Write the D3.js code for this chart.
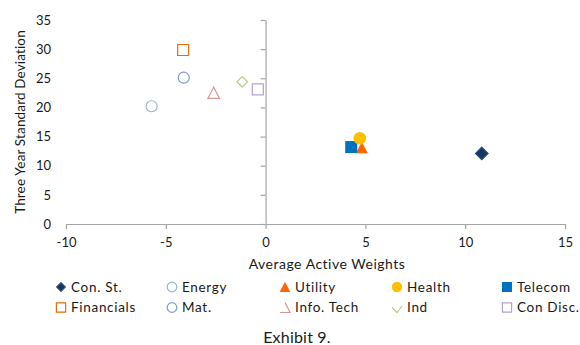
<!DOCTYPE html>
<html><head><meta charset="utf-8">
<script src="https://cdn.jsdelivr.net/npm/d3@7"></script>
<style>
html,body{margin:0;padding:0;background:#fff;}
svg text{font-family:Lato,"Open Sans",sans-serif;fill:#1a1a1a;}
</style></head>
<body><svg id="c" width="580" height="345"></svg>
<script>
const sectors = ["Con. St.","Energy","Utility","Health","Telecom","Financials","Mat.","Info. Tech","Ind","Con Disc."];
const activeWeights = [10.83, -5.71, 4.82, 4.72, 4.29, -4.13, -4.1, -2.6, -1.17, -0.39];
const stdDevs = [12.1, 20.2, 13.1, 14.7, 13.2, 29.85, 25.1, 22.5, 24.4, 23.1];
const xTicks = [-10, -5, 0, 5, 10, 15];
const yTicks = [0, 5, 10, 15, 20, 25, 30, 35];

const styles = {
  "Con. St.":  {shape:"diamond", fill:"#17375E", stroke:"#2a4d80", r:6.3, lr:4.3},
  "Energy":    {shape:"circle", fill:"none", stroke:"#95B3D7", r:5.5, lr:4.8},
  "Utility":   {shape:"triangle", fill:"#FF6600", stroke:"none", r:6, lr:5.3},
  "Health":    {shape:"circle", fill:"#FFC000", stroke:"none", r:6.3, lr:5.2},
  "Telecom":   {shape:"square", fill:"#0070C0", stroke:"none", r:6, lr:5},
  "Financials":{shape:"square", fill:"none", stroke:"#E46C0A", r:5.5, lr:4.6},
  "Mat.":      {shape:"circle", fill:"none", stroke:"#7F9BD0", r:5.5, lr:4.8},
  "Info. Tech":{shape:"triangle", fill:"none", stroke:"#D99694", r:5.8, lr:5, legendPartial:"tri"},
  "Ind":       {shape:"diamond", fill:"none", stroke:"#B5CF8A", r:5.3, lr:5, legendPartial:"dia"},
  "Con Disc.": {shape:"square", fill:"none", stroke:"#B3A2C7", r:5.5, lr:4.6}
};

const shapes = {
  diamond:{draw(c,r){c.moveTo(0,-r);c.lineTo(r,0);c.lineTo(0,r);c.lineTo(-r,0);c.closePath();}},
  square:{draw(c,r){c.rect(-r,-r,2*r,2*r);}},
  circle:{draw(c,r){c.moveTo(r,0);c.arc(0,0,r,0,2*Math.PI);}},
  triangle:{draw(c,r){c.moveTo(0,-r);c.lineTo(r,r*0.95);c.lineTo(-r,r*0.95);c.closePath();}},
  tri:{draw(c,r){c.moveTo(0,-r);c.lineTo(r,r);c.lineTo(-r,r);}},
  dia:{draw(c,r){c.moveTo(-r,0);c.lineTo(0,r);c.lineTo(r,-0.3*r);}}
};

const svg = d3.select("#c");
const x = d3.scaleLinear().domain([-10,15]).range([66,565]);
const y = d3.scaleLinear().domain([0,35]).range([224,20]);
const fmt = d => String(d);

const xg = svg.append("g").attr("transform",`translate(0,${y(0)})`)
  .call(d3.axisBottom(x).tickValues(xTicks).tickFormat(fmt).tickSizeInner(5).tickSizeOuter(0).tickPadding(9));
const yg = svg.append("g").attr("transform",`translate(${x(0)},0)`)
  .call(d3.axisLeft(y).tickValues(yTicks).tickFormat(fmt).tickSizeInner(5).tickSizeOuter(0).tickPadding(x(0)-51-5));
[xg,yg].forEach(g=>{
  g.select(".domain").attr("stroke","#a6a6a6").attr("stroke-width",1.2);
  g.selectAll(".tick line").attr("stroke","#a6a6a6").attr("stroke-width",1.2);
  g.selectAll(".tick text").attr("font-size",13).attr("font-family","Lato").attr("fill","#1a1a1a");
});

const order = [0,1,2,4,3,5,6,7,8,9];
order.forEach(i=>{
  const s = styles[sectors[i]];
  svg.append("path")
    .attr("d", d3.symbol().type(shapes[s.shape]).size(s.r)())
    .attr("transform",`translate(${x(activeWeights[i])},${y(stdDevs[i])})`)
    .attr("fill",s.fill).attr("stroke",s.stroke).attr("stroke-width",1.2);
});

svg.append("text").attr("x",327).attr("y",269).attr("text-anchor","middle")
  .attr("font-size",14).attr("letter-spacing",0.5).text("Average Active Weights");
svg.append("text").attr("transform","translate(25,122) rotate(-90)").attr("text-anchor","middle")
  .attr("font-size",13.5).attr("letter-spacing",0.15).text("Three Year Standard Deviation");

const colX = [61, 172, 285, 397, 507];
const rowY = [287, 307.5];
sectors.forEach((name,i)=>{
  const s = styles[name];
  const cx = colX[i%5], cy = rowY[Math.floor(i/5)];
  const type = s.legendPartial ? shapes[s.legendPartial] : shapes[s.shape];
  svg.append("path").attr("d", d3.symbol().type(type).size(s.lr)())
    .attr("transform",`translate(${cx},${cy})`)
    .attr("fill", s.legendPartial ? "none" : s.fill).attr("stroke",s.stroke).attr("stroke-width",1.2);
  svg.append("text").attr("x",cx+10).attr("y",cy+4.5).attr("font-size",13.5)
    .attr("letter-spacing",0.7).text(name);
});

svg.append("text").attr("x",297).attr("y",343).attr("text-anchor","middle")
  .attr("font-size",16).attr("letter-spacing",0.2).text("Exhibit 9.");
</script></body></html>
